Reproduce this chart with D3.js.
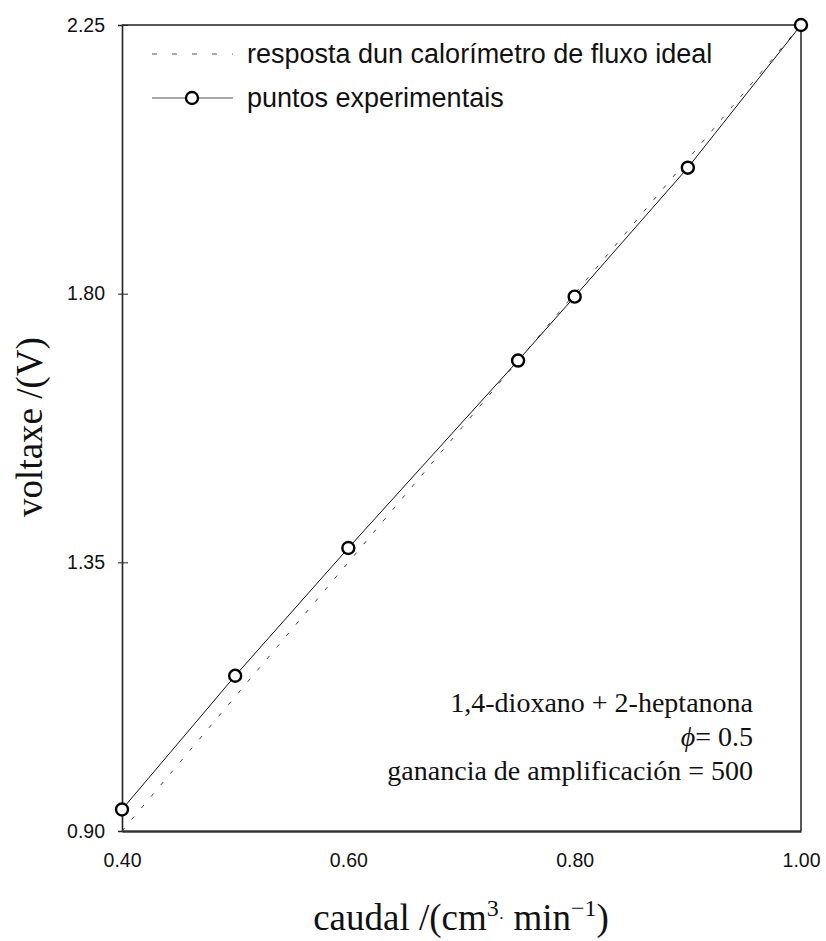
<!DOCTYPE html>
<html lang="en">
<head>
    <meta charset="UTF-8">
    <title>Resposta do calorímetro de fluxo</title>
    <script src="https://d3js.org/d3.v7.min.js"></script>
    <style>
        body {
            margin: 0;
            background: #fff;
        }
        .sans { font-family: "Liberation Sans", Arial, sans-serif; }
        .serif { font-family: "Liberation Serif", "Times New Roman", serif; }
    </style>
</head>
<body>
    <div id="chart"></div>

    <script>
        // caudal (cm3/min) and measured voltage (V)
        const flowRates = [0.40, 0.50, 0.60, 0.75, 0.80, 0.90, 1.00];
        const voltages = [0.936, 1.160, 1.374, 1.688, 1.795, 2.011, 2.250];

        // ideal flow calorimeter: straight line through the end points
        const idealFlow = [0.40, 1.00];
        const idealVoltage = [0.90, 2.25];

        const xTicks = [0.40, 0.60, 0.80, 1.00];
        const yTicks = [0.90, 1.35, 1.80, 2.25];

        const legendLabels = ['resposta dun calorímetro de fluxo ideal', 'puntos experimentais'];
        const noteLines = ['1,4-dioxano + 2-heptanona', '= 0.5', 'ganancia de amplificación = 500'];

        const width = 826, height = 941;
        const margin = { top: 25, right: 25, bottom: 110, left: 122 };
        const plotW = width - margin.left - margin.right;
        const plotH = height - margin.top - margin.bottom;

        const svg = d3.select('#chart')
            .append('svg')
            .attr('width', width)
            .attr('height', height);

        const g = svg.append('g')
            .attr('transform', `translate(${margin.left},${margin.top})`);

        const x = d3.scaleLinear().domain([0.40, 1.00]).range([0, plotW]);
        const y = d3.scaleLinear().domain([0.90, 2.25]).range([plotH, 0]);

        // frame
        g.append('line').attr('x1', 0).attr('x2', plotW).attr('y1', 0).attr('y2', 0)
            .attr('stroke', '#222').attr('stroke-width', 1.3);
        g.append('line').attr('x1', plotW).attr('x2', plotW).attr('y1', 0).attr('y2', plotH)
            .attr('stroke', '#222').attr('stroke-width', 1.5);

        // y axis
        const yAxis = g.append('g')
            .attr('class', 'sans')
            .call(d3.axisLeft(y).tickValues(yTicks).tickFormat(d3.format('.2f')).tickSize(4).tickPadding(13));
        yAxis.select('.domain').attr('stroke', '#222').attr('stroke-width', 1.6);
        yAxis.selectAll('.tick line').attr('x2', 6).attr('x1', -4).attr('stroke', '#222');
        yAxis.selectAll('.tick text')
            .attr('font-size', 19.5)
            .attr('fill', '#111')
            .attr('dy', '0.32em');

        // x axis
        const xAxis = g.append('g')
            .attr('class', 'sans')
            .attr('transform', `translate(0,${plotH})`)
            .call(d3.axisBottom(x).tickValues(xTicks).tickFormat(d3.format('.2f')).tickSize(0).tickPadding(22));
        xAxis.select('.domain').attr('stroke', '#333').attr('stroke-width', 2.6);
        xAxis.selectAll('.tick text')
            .attr('font-size', 19.5)
            .attr('fill', '#111');

        // ideal line
        const ideal = idealFlow.map((f, i) => [f, idealVoltage[i]]);
        g.append('path')
            .datum(ideal)
            .attr('fill', 'none')
            .attr('stroke', '#444')
            .attr('stroke-width', 1)
            .attr('stroke-dasharray', '4,11')
            .attr('d', d3.line().x(d => x(d[0])).y(d => y(d[1])));

        // experimental points
        const points = flowRates.map((f, i) => [f, voltages[i]]);
        g.append('path')
            .datum(points)
            .attr('fill', 'none')
            .attr('stroke', '#111')
            .attr('stroke-width', 1)
            .attr('d', d3.line().x(d => x(d[0])).y(d => y(d[1])));

        g.selectAll('circle.pt')
            .data(points)
            .enter()
            .append('circle')
            .attr('class', 'pt')
            .attr('cx', d => x(d[0]))
            .attr('cy', d => y(d[1]))
            .attr('r', 6)
            .attr('fill', '#fff')
            .attr('stroke', '#000')
            .attr('stroke-width', 2.4);

        // legend
        const legend = svg.append('g').attr('class', 'sans');
        legend.append('line')
            .attr('x1', 152).attr('x2', 233).attr('y1', 54).attr('y2', 54)
            .attr('stroke', '#555').attr('stroke-width', 1)
            .attr('stroke-dasharray', '5,15');
        legend.append('line')
            .attr('x1', 152).attr('x2', 233).attr('y1', 98).attr('y2', 98)
            .attr('stroke', '#555').attr('stroke-width', 1.2);
        legend.append('circle')
            .attr('cx', 192).attr('cy', 98).attr('r', 6)
            .attr('fill', '#fff').attr('stroke', '#000').attr('stroke-width', 2.4);
        legend.selectAll('text')
            .data(legendLabels)
            .enter()
            .append('text')
            .attr('x', 247)
            .attr('y', (d, i) => 63 + i * 44)
            .attr('font-size', 27)
            .attr('fill', '#111')
            .text(d => d);

        // annotation
        const note = svg.append('g').attr('class', 'serif')
            .attr('font-size', 28)
            .attr('fill', '#111')
            .attr('text-anchor', 'end');
        note.append('text').attr('x', 753).attr('y', 712).text(noteLines[0]);
        const phi = note.append('text').attr('x', 753).attr('y', 746);
        phi.append('tspan').attr('font-style', 'italic').text('\u03d5');
        phi.append('tspan').text(noteLines[1]);
        note.append('text').attr('x', 753).attr('y', 780).text(noteLines[2]);

        // axis titles
        const xt = svg.append('text')
            .attr('class', 'serif')
            .attr('x', 461)
            .attr('y', 930)
            .attr('text-anchor', 'middle')
            .attr('font-size', 37)
            .attr('fill', '#111');
        xt.append('tspan').text('caudal /(cm');
        xt.append('tspan').attr('font-size', 24).attr('dy', -14).text('3');
        xt.append('tspan').attr('font-size', 16).attr('dy', 8).text('·');
        xt.append('tspan').attr('dy', 6).text(' min');
        xt.append('tspan').attr('font-size', 24).attr('dy', -14).text('\u22121');
        xt.append('tspan').attr('dy', 14).text(')');

        svg.append('text')
            .attr('class', 'serif')
            .attr('transform', 'translate(42,427) rotate(-90)')
            .attr('text-anchor', 'middle')
            .attr('font-size', 37)
            .attr('fill', '#111')
            .text('voltaxe /(V)');
    </script>
</body>
</html>
